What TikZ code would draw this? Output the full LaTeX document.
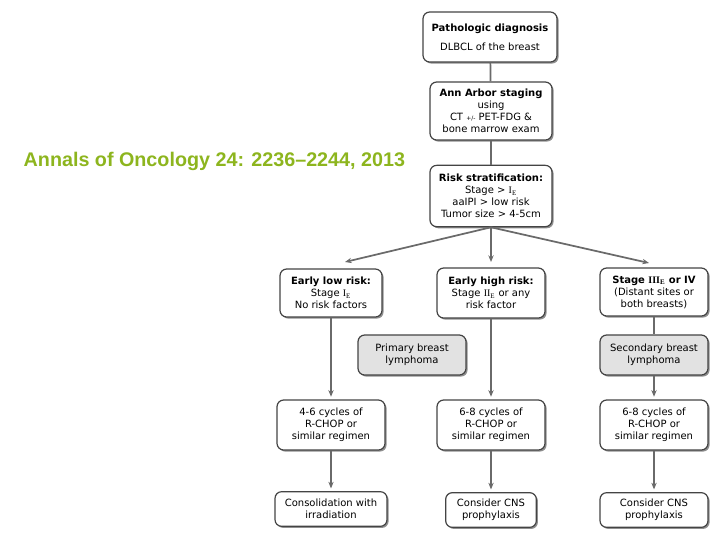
\documentclass[tikz,border=0pt]{standalone}
\usepackage{fontspec}
\setmainfont{DejaVu Sans}
\newfontfamily\titlefont{Liberation Sans}
\newfontfamily\romfont{Liberation Serif}
\usetikzlibrary{shadows,arrows.meta}
\definecolor{titlegreen}{HTML}{8DB51E}
\definecolor{boxline}{HTML}{444444}
\definecolor{conn}{HTML}{6A6A6A}
\definecolor{grayfill}{HTML}{E2E2E2}
\newcommand{\stg}[1]{{\romfont #1}\textsubscript{\romfont E}}
\newcommand{\bstg}[1]{{\romfont\bfseries #1}\textsubscript{\romfont\bfseries E}}
\tikzset{
  box/.style={draw=boxline, line width=0.9pt, rounded corners=5pt, fill=white, align=center,
    font=\fontsize{7.5}{9}\selectfont, inner sep=1pt,
    drop shadow={shadow xshift=1.2pt, shadow yshift=-1.2pt, fill=black!55, opacity=0.8}},
  graybox/.style={box, fill=grayfill},
  conline/.style={draw=conn, line width=1.3pt},
  conarrow/.style={conline, -{Stealth[length=5pt,width=4pt]}, shorten >=2pt}
}
\begin{document}
\begin{tikzpicture}[x=0.75pt,y=-0.75pt]
\useasboundingbox (0,0) rectangle (720,540);

\node[font=\titlefont\bfseries\fontsize{14.8}{17}\selectfont, text=titlegreen, anchor=west] (title) at (19,161) {Annals of Oncology 24: 2236–2244, 2013};

\node[box, minimum width=100.5pt, minimum height=37.5pt] (b1) at (490,37) {\textbf{Pathologic diagnosis}\\[5pt]DLBCL of the breast};
\node[box, minimum width=91.5pt, minimum height=43.5pt] (b2) at (491,111) {\textbf{Ann Arbor staging}\\using\\CT {\fontsize{4.5}{5}\selectfont +/-} PET-FDG \&\\bone marrow exam};
\node[box, minimum width=91.5pt, minimum height=46pt] (b3) at (491,196) {\textbf{Risk stratification:}\\Stage > \stg{I}\\aaIPI > low risk\\Tumor size > 4-5cm};

\node[box, minimum width=76.5pt, minimum height=36pt] (e1) at (331,293) {\textbf{Early low risk:}\\Stage \stg{I}\\No risk factors};
\node[box, minimum width=81pt, minimum height=37.5pt] (e2) at (491,293) {\textbf{Early high risk:}\\Stage \stg{II} or any\\risk factor};
\node[box, minimum width=81pt, minimum height=36pt] (e3) at (654,292) {\textbf{Stage \bstg{III} or IV}\\(Distant sites or\\both breasts)};

\node[graybox, minimum width=81pt, minimum height=30pt] (p) at (412,355) {Primary breast\\lymphoma};
\node[graybox, minimum width=81pt, minimum height=30pt] (s) at (654,355) {Secondary breast\\lymphoma};

\node[box, minimum width=81pt, minimum height=37.5pt] (c1) at (331,425) {4-6 cycles of\\R-CHOP or\\similar regimen};
\node[box, minimum width=81pt, minimum height=37.5pt] (c2) at (491,425) {6-8 cycles of\\R-CHOP or\\similar regimen};
\node[box, minimum width=81pt, minimum height=37.5pt] (c3) at (654,425) {6-8 cycles of\\R-CHOP or\\similar regimen};

\node[box, minimum width=84pt, minimum height=26pt] (d1) at (331,509) {Consolidation with\\irradiation};
\node[box, minimum width=68pt, minimum height=26pt] (d2) at (491,510) {Consider CNS\\prophylaxis};
\node[box, minimum width=81pt, minimum height=26pt] (d3) at (654,510) {Consider CNS\\prophylaxis};

\coordinate (ta) at (345,262);
\coordinate (tb) at (491,262);
\coordinate (tc) at (649,263);

\draw[conline] (b1) -- (b2);
\draw[conline] (b2) -- (b3);
\draw[conarrow, shorten >=0pt] (b3.south) -- (ta);
\draw[conarrow, shorten >=0pt] (b3.south) -- (tb);
\draw[conarrow, shorten >=0pt] (b3.south) -- (tc);

\draw[conarrow] (e1) -- (c1);
\draw[conarrow] (e2) -- (c2);
\draw[conline] (e3) -- (s);
\draw[conarrow] (s) -- (c3);
\draw[conarrow] (c1) -- (d1);
\draw[conarrow] (c2) -- (d2);
\draw[conarrow] (c3) -- (d3);
\end{tikzpicture}
\end{document}
